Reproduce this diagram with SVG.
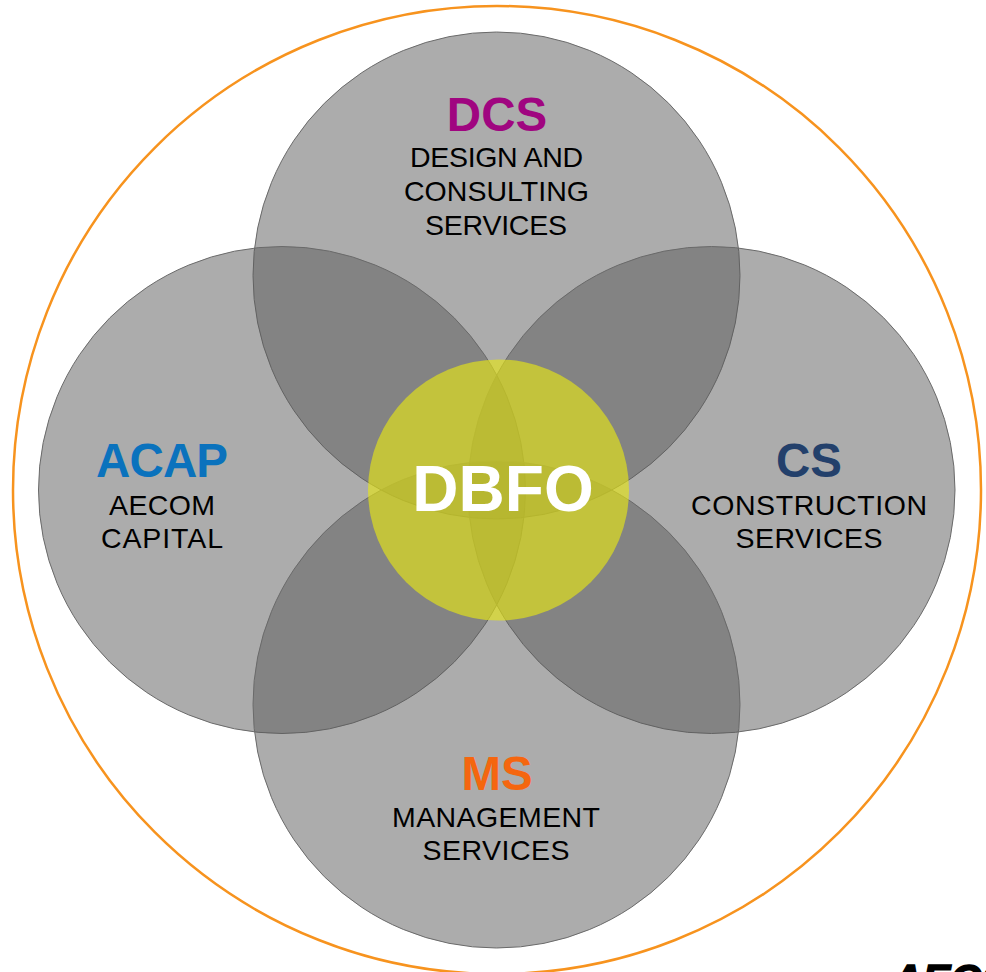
<svg xmlns="http://www.w3.org/2000/svg" width="986" height="972" viewBox="0 0 986 972">
<style>
text{font-family:"Liberation Sans",Arial,sans-serif;text-anchor:middle}
.c{fill:#595959;fill-opacity:.5;stroke:#6a6a6a;stroke-width:1}
.h{font-size:47.5px;font-weight:700}
.t{font-size:28.5px;fill:#000}
</style>
<rect width="986" height="972" fill="#fff"/>
<g id="outer"><circle cx="497" cy="490" r="484" fill="none" stroke="#f7931e" stroke-width="2.5"/></g>
<g id="dcs"><circle class="c" cx="496.5" cy="275.5" r="243.5"/></g>
<g id="acap"><circle class="c" cx="282" cy="490" r="243.5"/></g>
<g id="cs"><circle class="c" cx="711.5" cy="490" r="243.5"/></g>
<g id="ms"><circle class="c" cx="496.5" cy="704.5" r="243.5"/></g>
<g id="dcs-label"><text class="h" x="497" y="131" fill="#a00580">DCS</text><text class="t" x="496.5" y="167" textLength="173">DESIGN AND</text><text class="t" x="496.5" y="201" textLength="185">CONSULTING</text><text class="t" x="496" y="235" textLength="142">SERVICES</text></g>
<g id="acap-label"><text class="h" x="162" y="477" fill="#0a72bd" textLength="132">ACAP</text><text class="t" x="162" y="515" textLength="106">AECOM</text><text class="t" x="162" y="548" textLength="122">CAPITAL</text></g>
<g id="cs-label"><text class="h" x="809" y="477" fill="#23406b">CS</text><text class="t" x="809" y="515" textLength="236">CONSTRUCTION</text><text class="t" x="809" y="548" textLength="147">SERVICES</text></g>
<g id="ms-label"><text class="h" x="497" y="790" fill="#f5660f">MS</text><text class="t" x="496" y="827" textLength="208">MANAGEMENT</text><text class="t" x="496" y="860" textLength="147">SERVICES</text></g>
<g id="dbfo"><circle cx="498.5" cy="490" r="130.5" fill="#eaea10" fill-opacity=".62"/><text x="503" y="511" font-size="64" font-weight="700" fill="#fff">DBFO</text></g>
<g id="logo"><text x="892" y="994" font-size="42" font-weight="700" font-style="italic" fill="#000" stroke="#000" stroke-width="1.5" style="text-anchor:start">AECOM</text></g>
</svg>
